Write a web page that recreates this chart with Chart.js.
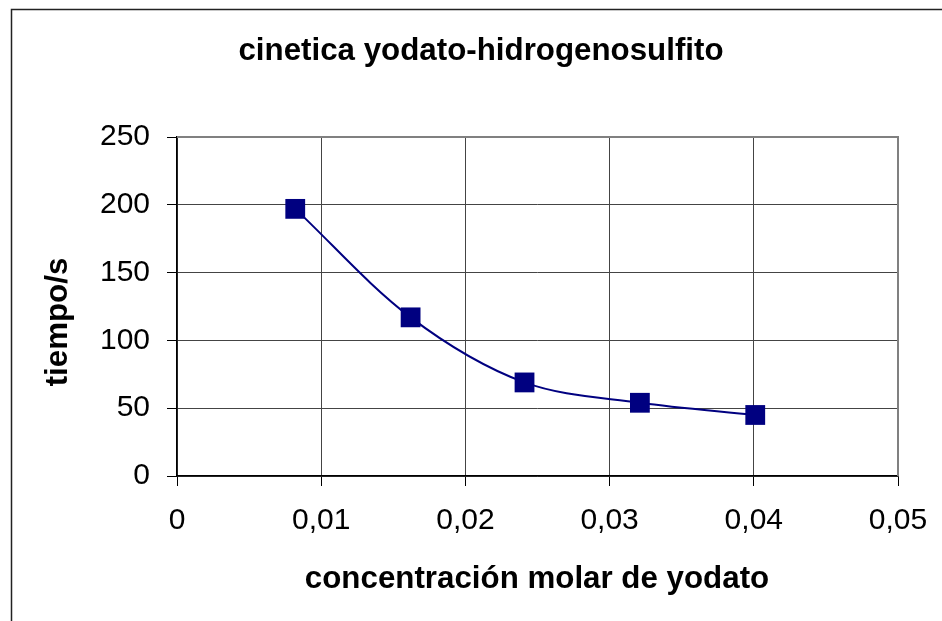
<!DOCTYPE html>
<html>
<head>
<meta charset="utf-8">
<script src="https://cdn.jsdelivr.net/npm/chart.js@4"></script>
<style>
  html, body { margin: 0; padding: 0; background: #fff; }
  #wrap { position: relative; width: 942px; height: 621px; }
</style>
</head>
<body>
<div id="wrap"><canvas id="chart" width="942" height="621"></canvas></div>
<script>
// ── Datos ───────────────────────────────────────────────────
const concentracion = [0.0082, 0.0162, 0.0241, 0.0321, 0.0401];
const tiempo        = [197, 117, 69, 54, 45];
const xTicks = [0, 0.01, 0.02, 0.03, 0.04, 0.05];
const yTicks = [0, 50, 100, 150, 200, 250];

const TITULO   = 'cinetica yodato-hidrogenosulfito';
const TITULO_X = 'concentración molar de yodato';
const TITULO_Y = 'tiempo/s';

const FONT = "'Liberation Sans', Arial, sans-serif";
const NAVY = '#000080';

// marco exterior, borde gris del área y títulos
const decor = {
  id: 'decor',
  beforeDraw(chart) {
    const ctx = chart.ctx;
    ctx.save();
    ctx.strokeStyle = '#222';
    ctx.lineWidth = 1.5;
    ctx.strokeRect(11.5, 9.5, 1000, 700);
    ctx.restore();
  },
  beforeDatasetsDraw(chart) {
    const { ctx, chartArea: a } = chart;
    ctx.save();
    ctx.strokeStyle = '#808080';
    ctx.lineWidth = 2;
    ctx.beginPath();
    ctx.moveTo(a.left, a.top);
    ctx.lineTo(a.right, a.top);
    ctx.lineTo(a.right, a.bottom);
    ctx.stroke();
    ctx.restore();
  },
  afterDraw(chart) {
    const ctx = chart.ctx;
    ctx.save();
    ctx.fillStyle = '#000';
    ctx.font = 'bold 31.3px ' + FONT;
    ctx.textAlign = 'center';
    ctx.textBaseline = 'alphabetic';
    ctx.fillText(TITULO, 481, 60);
    ctx.fillText(TITULO_X, 537, 588);
    ctx.translate(67, 322);
    ctx.rotate(-Math.PI / 2);
    ctx.fillText(TITULO_Y, 0, 0);
    ctx.restore();
  },
};

const fmt = v => String(Number(v.toFixed(3))).replace('.', ',');

new Chart(document.getElementById('chart'), {
  type: 'scatter',
  data: {
    datasets: [{
      data: concentracion.map((x, i) => ({ x, y: tiempo[i] })),
      showLine: true,
      borderColor: NAVY,
      borderWidth: 2,
      tension: 0.33,
      pointStyle: 'rect',
      pointRadius: 14,
      pointBackgroundColor: NAVY,
      pointBorderColor: NAVY,
      pointBorderWidth: 0,
    }],
  },
  options: {
    responsive: false,
    animation: false,
    events: [],
    layout: { padding: { top: 137, right: 44, bottom: 0, left: 0 } },
    plugins: { legend: { display: false }, tooltip: { enabled: false }, title: { display: false } },
    scales: {
      x: {
        type: 'linear',
        min: 0, max: 0.05,
        afterFit: s => { s.height = 145; s.paddingLeft = 0; s.paddingRight = 0; },
        afterBuildTicks: s => { s.ticks = xTicks.map(value => ({ value })); },
        grid: { color: '#444', lineWidth: 1, tickLength: 10, tickColor: '#000' },
        border: { color: '#000', width: 1.5 },
        ticks: { color: '#000', padding: 17, maxRotation: 0, font: { family: FONT, size: 30 }, callback: v => fmt(v) },
      },
      y: {
        type: 'linear',
        min: 0, max: 250,
        afterFit: s => { s.width = 177; s.paddingTop = 0; s.paddingBottom = 0; },
        afterBuildTicks: s => { s.ticks = yTicks.map(value => ({ value })); },
        grid: { color: '#444', lineWidth: 1, tickLength: 10, tickColor: '#000' },
        border: { color: '#000', width: 1.5 },
        ticks: { color: '#000', padding: 17, font: { family: FONT, size: 30 } },
      },
    },
  },
  plugins: [decor],
});
</script>
</body>
</html>
